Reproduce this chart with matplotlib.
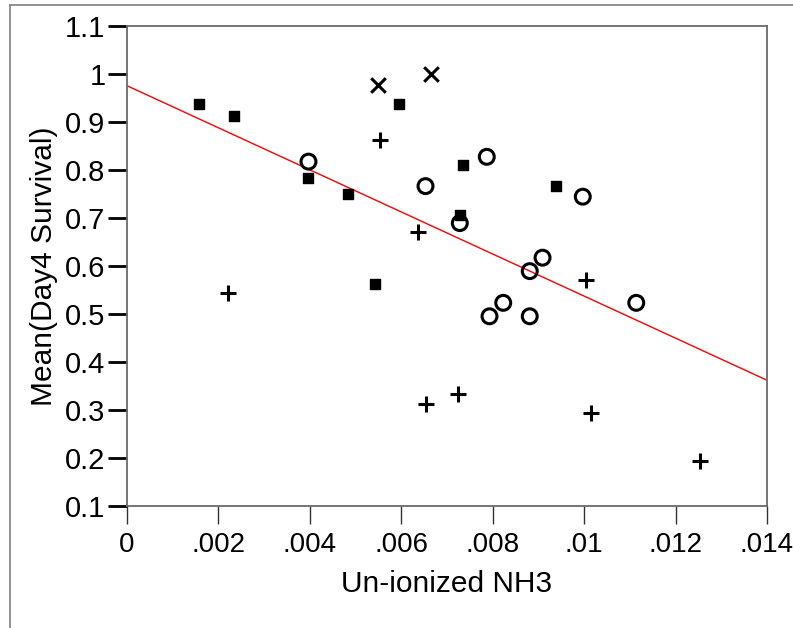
import numpy as np
import matplotlib.pyplot as plt
from matplotlib.lines import Line2D

plt.rcParams['font.family'] = ['Liberation Sans', 'DejaVu Sans']

# un-ionized NH3 vs mean day-4 survival, one marker per group
sq_x = [0.00158, 0.00233, 0.00594, 0.00397, 0.00484, 0.00734, 0.00728, 0.00543, 0.00938]
sq_y = [0.938, 0.911, 0.938, 0.783, 0.750, 0.811, 0.706, 0.562, 0.766]

cross_x = [0.00549, 0.00665]
cross_y = [0.977, 0.999]

plus_x = [0.00553, 0.00636, 0.00222, 0.00653, 0.00723, 0.01003, 0.01014, 0.01254]
plus_y = [0.861, 0.671, 0.544, 0.312, 0.333, 0.571, 0.293, 0.194]

circ_x = [0.00397, 0.00653, 0.00787, 0.00728, 0.00997, 0.00909, 0.00881, 0.00823, 0.01114, 0.00793, 0.00881]
circ_y = [0.817, 0.766, 0.827, 0.689, 0.744, 0.617, 0.589, 0.523, 0.523, 0.495, 0.495]

# linear fit
fit_intercept = 0.975
fit_slope = -43.8

xticks = [0, 0.002, 0.004, 0.006, 0.008, 0.010, 0.012, 0.014]
xlabels = ['0', '.002', '.004', '.006', '.008', '.01', '.012', '.014']
yticks = [0.1, 0.2, 0.3, 0.4, 0.5, 0.6, 0.7, 0.8, 0.9, 1.0, 1.1]
ylabels = ['0.1', '0.2', '0.3', '0.4', '0.5', '0.6', '0.7', '0.8', '0.9', '1', '1.1']

fig = plt.figure(figsize=(7.93, 6.28), dpi=100)
ax = fig.add_axes([127/793, 1 - 506/628, 640/793, 480.3/628])

fx = np.array([0, 0.014])
ax.plot(fx, fit_intercept + fit_slope * fx, color='red', lw=1.0, zorder=2)

ax.scatter(sq_x, sq_y, marker='s', s=50, color='black', zorder=3)
ax.scatter(circ_x, circ_y, marker='o', s=115, facecolors='none', edgecolors='black', linewidths=2.2, zorder=3)
ax.scatter(plus_x, plus_y, marker='+', s=140, color='black', linewidths=2.2, zorder=3)
ax.scatter(cross_x, cross_y, marker='x', s=110, color='black', linewidths=2.2, zorder=3)

ax.set_xlim(0, 0.014)
ax.set_ylim(0.1, 1.1)
ax.set_xticks(xticks)
ax.set_xticklabels(xlabels)
ax.set_yticks(yticks)
ax.set_yticklabels(ylabels)

for s in ax.spines.values():
    s.set_color('#6a6a6a')
    s.set_linewidth(1.3)

ax.tick_params(axis='x', direction='out', length=13, width=1.0, color='#333333', labelsize=20, pad=6)
ax.tick_params(axis='y', direction='out', length=13.5, width=2.0, color='black', labelsize=21, pad=2)

ax.set_xlabel('Un-ionized NH3', fontsize=21.5, labelpad=8)
ax.set_ylabel('Mean(Day4 Survival)', fontsize=21.5, labelpad=5)

# outer frame lines (top and left)
fig.add_artist(Line2D([10/793, 1], [1 - 5/628, 1 - 5/628], color='#888888', lw=1.3, transform=fig.transFigure))
fig.add_artist(Line2D([10/793, 10/793], [0, 1 - 5/628], color='#888888', lw=1.3, transform=fig.transFigure))

fig.savefig('out.png', dpi=100)
